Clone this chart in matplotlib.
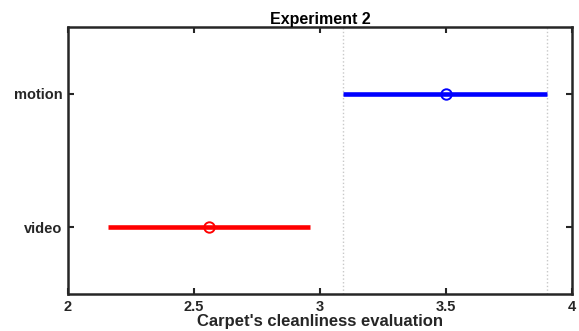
import matplotlib.pyplot as plt

plt.rcParams['font.family'] = ['Liberation Sans', 'DejaVu Sans']
plt.rcParams['font.weight'] = 'bold'

conditions = ['video', 'motion']
means = [2.56, 3.50]
ci_low = [2.16, 3.09]
ci_high = [2.96, 3.90]
colors = ['#ff0000', '#0000ff']
ref_lines = [3.09, 3.90]

fig = plt.figure(figsize=(5.79, 3.31), dpi=100)
ax = fig.add_axes([0.1174, 0.1118, 0.8706, 0.8066])

for xv in ref_lines:
    ax.axvline(xv, color='#c8c8c8', lw=1.0, ls=':', zorder=1)

for i, c in enumerate(conditions):
    y = i + 1
    ax.plot([ci_low[i], ci_high[i]], [y, y], color=colors[i], lw=3.3, solid_capstyle='butt', zorder=2)
    ax.plot(means[i], y, 'o', mfc='none', mec=colors[i], ms=7.5, mew=1.4, zorder=3)

ax.set_xlim(2, 4)
ax.set_ylim(0.5, 2.5)
ax.set_xticks([2, 2.5, 3, 3.5, 4])
ax.set_xticklabels(['2', '2.5', '3', '3.5', '4'])
ax.set_yticks([1, 2])
ax.set_yticklabels(conditions)
ax.tick_params(direction='in', top=True, right=True, length=4, width=1.5,
               labelsize=10.5, colors='#262626', pad=4)
for s in ax.spines.values():
    s.set_linewidth(1.8)
    s.set_color('#262626')

ax.set_title('Experiment 2', fontsize=11.5, fontweight='bold', pad=2)
ax.set_xlabel("Carpet's cleanliness evaluation", fontsize=12, fontweight='bold',
              color='#262626', labelpad=0)

fig.savefig('out.png', dpi=100)
